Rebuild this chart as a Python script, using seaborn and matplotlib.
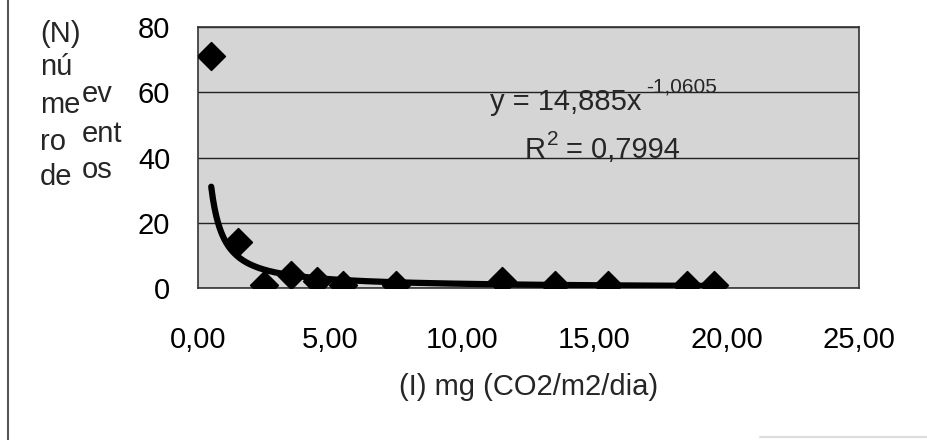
import numpy as np
import pandas as pd
import seaborn as sns
import matplotlib.pyplot as plt
import matplotlib.ticker as ticker
from matplotlib.lines import Line2D

# data
intensidade = [0.5, 1.5, 2.5, 3.5, 4.5, 5.5, 7.5, 11.5, 13.5, 15.5, 18.5, 19.5]
eventos = [71, 14, 1, 4, 2, 1, 1, 2, 1, 1, 1, 1]

# power trendline as printed on the chart
coef_a = 14.885
coef_b = -1.0605

sns.set_style("white")
plt.rcParams["font.family"] = ["Liberation Sans", "DejaVu Sans"]
FS = 21

df = pd.DataFrame({"x": intensidade, "y": eventos})
xs = np.linspace(min(intensidade), max(intensidade), 300)
trend = pd.DataFrame({"x": xs, "y": coef_a * xs ** coef_b})

fig = plt.figure(figsize=(9.27, 4.4), dpi=100)
ax = fig.add_axes([198 / 927, 1 - 288 / 440, (859 - 198) / 927, (288 - 27) / 440])
ax.set_facecolor("#d5d5d5")

sns.lineplot(data=trend, x="x", y="y", color="black", linewidth=4.5, ax=ax, zorder=3)
sns.scatterplot(data=df, x="x", y="y", marker="D", s=200, color="black",
                edgecolor="black", ax=ax, zorder=4)

ax.set_xlim(0, 25)
ax.set_ylim(0, 80)
ax.xaxis.set_major_locator(ticker.MultipleLocator(5))
ax.yaxis.set_major_locator(ticker.MultipleLocator(20))
ax.xaxis.set_major_formatter(ticker.FuncFormatter(lambda v, p: f"{v:.2f}".replace(".", ",")))
ax.yaxis.set_major_formatter(ticker.FuncFormatter(lambda v, p: f"{v:.0f}"))
ax.tick_params(axis="both", labelsize=FS, colors="black", direction="out", width=1)
ax.tick_params(axis="x", length=8, pad=19)
ax.tick_params(axis="y", length=6, pad=14)
ax.grid(axis="y", color="#222222", linewidth=1)
ax.set_axisbelow(True)
for s in ax.spines.values():
    s.set_color("#333333")
    s.set_linewidth(1.2)

ax.set_xlabel("(I) mg (CO2/m2/dia)", fontsize=FS, labelpad=14)
ax.set_ylabel("")

# wrapped y-axis title, as in the original
for txt, yb in [("(N)", 42), ("nú", 75), ("me", 113), ("ro", 150), ("de", 185)]:
    fig.text(40 / 927, 1 - yb / 440, txt, fontsize=FS, va="baseline")
for txt, yb in [("ev", 102), ("ent", 142), ("os", 178)]:
    fig.text(82 / 927, 1 - yb / 440, txt, fontsize=FS, va="baseline")

# trendline equation
ax.text(11.04, 54.6, "y = 14,885x", fontsize=FS, va="baseline")
ax.text(16.95, 59.8, "-1,0605", fontsize=15, va="baseline")
ax.text(12.37, 39.8, "R", fontsize=FS, va="baseline")
ax.text(13.2, 43.8, "2", fontsize=15, va="baseline")
ax.text(13.9, 39.8, "= 0,7994", fontsize=FS, va="baseline")

# page frame lines
fig.add_artist(Line2D([8 / 927, 8 / 927], [0, 1], color="#555555", linewidth=1.5))
fig.add_artist(Line2D([760 / 927, 1], [3 / 440, 3 / 440], color="#dddddd", linewidth=1.5))

fig.savefig("out.png", dpi=100)
